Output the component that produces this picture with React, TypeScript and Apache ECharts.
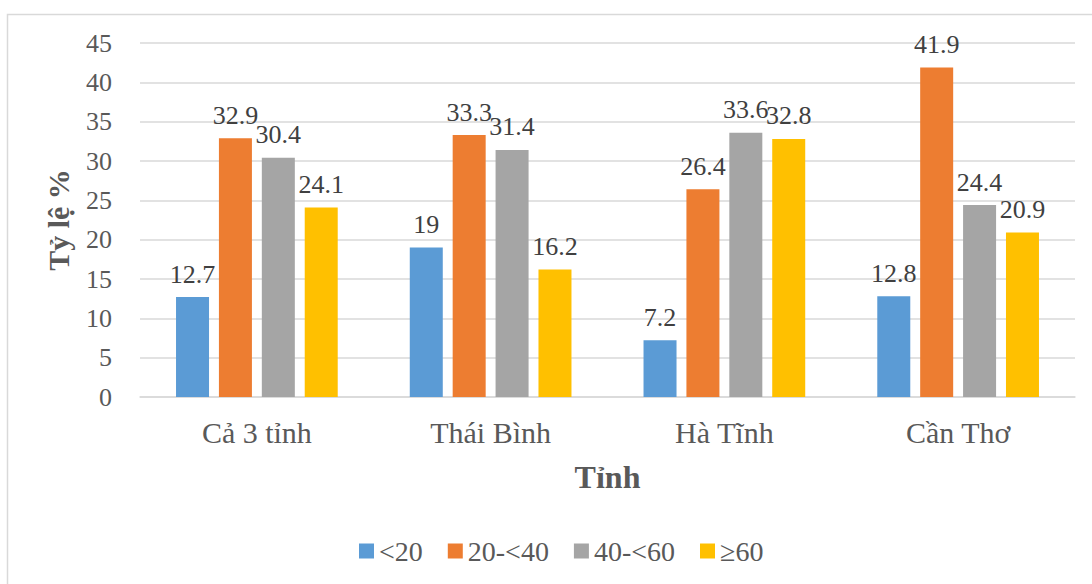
import React, { useEffect, useRef } from "react";
import * as echarts from "echarts";

const categories = ["Cả 3 tỉnh", "Thái Bình", "Hà Tĩnh", "Cần Thơ"];
const seriesNames = ["<20", "20-<40", "40-<60", "≥60"];
const lt20 = [12.7, 19, 7.2, 12.8];
const from20to40 = [32.9, 33.3, 26.4, 41.9];
const from40to60 = [30.4, 31.4, 33.6, 24.4];
const gte60 = [24.1, 16.2, 32.8, 20.9];
const colors = ["#5b9bd5", "#ed7d31", "#a5a5a5", "#ffc000"];

const FONT = "Liberation Serif";

export default function App() {
  const ref = useRef<HTMLDivElement>(null);
  useEffect(() => {
    if (!ref.current) return;
    const chart = echarts.init(ref.current, undefined, { renderer: "svg" });
    const values = [lt20, from20to40, from40to60, gte60];
    chart.setOption({
      animation: false,
      backgroundColor: "#ffffff",
      textStyle: { fontFamily: FONT },
      graphic: [
        {
          type: "rect",
          shape: { x: 7.5, y: 14.5, width: 1200, height: 700 },
          style: { fill: "none", stroke: "#d9d9d9", lineWidth: 1.5 },
          silent: true,
        },
      ],
      grid: { left: 140, right: 17, top: 43, bottom: 187, containLabel: false },
      legend: {
        data: seriesNames,
        top: 532,
        left: 354,
        icon: "rect",
        itemWidth: 15,
        itemHeight: 15,
        itemGap: 25,
        textStyle: { fontFamily: FONT, fontSize: 28, color: "#595959", padding: [0, 0, 0, 0] },
      },
      xAxis: {
        type: "category",
        data: categories,
        name: "Tỉnh",
        nameLocation: "middle",
        nameGap: 64,
        nameTextStyle: { fontFamily: FONT, fontSize: 32, fontWeight: "bold", color: "#595959" },
        axisLine: { lineStyle: { color: "#d9d9d9", width: 1.5 } },
        axisTick: { show: false },
        axisLabel: { fontFamily: FONT, fontSize: 30, color: "#595959", margin: 20 },
      },
      yAxis: {
        type: "value",
        min: 0,
        max: 45,
        interval: 5,
        name: "Tỷ lệ %",
        nameLocation: "middle",
        nameRotate: 90,
        nameGap: 67,
        nameTextStyle: { fontFamily: FONT, fontSize: 30, fontWeight: "bold", color: "#595959" },
        axisLine: { show: false },
        axisTick: { show: false },
        axisLabel: { fontFamily: FONT, fontSize: 26, color: "#595959", margin: 28 },
        splitLine: { lineStyle: { color: "#d9d9d9", width: 1.5 } },
      },
      series: seriesNames.map((name, i) => ({
        name,
        type: "bar",
        data: values[i],
        barWidth: 33,
        barGap: "30%",
        itemStyle: { color: colors[i] },
        label: {
          show: true,
          position: "top",
          distance: 10,
          fontFamily: FONT,
          fontSize: 26,
          color: "#404040",
        },
      })),
    });
    return () => chart.dispose();
  }, []);
  return (
    <div
      ref={ref}
      style={{ position: "absolute", left: 0, top: 0, width: 1092, height: 584 }}
    />
  );
}
